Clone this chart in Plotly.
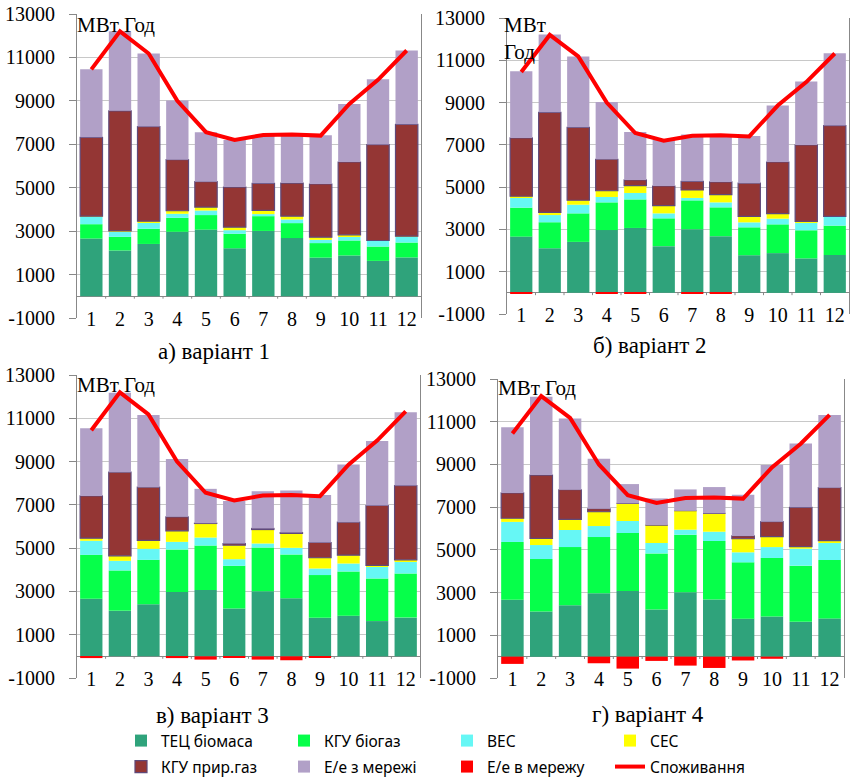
import plotly.graph_objects as go

months = list(range(1, 13))
month_labels = [str(m) for m in months]
y_tick_vals = list(range(-1000, 13001, 2000))
y_tick_text = [str(v) for v in y_tick_vals]

# shared series
tec_biomass = [2660, 2110, 2410, 2970, 3070, 2210, 3010, 2680, 1780, 1880, 1630, 1790]
consumption = [10450, 12200, 11180, 9000, 7560, 7200, 7430, 7450, 7400, 8860, 9970, 11320]

# variant 1
v1_biogas = [660, 630, 700, 645, 670, 670, 680, 690, 670, 690, 660, 685]
v1_wind = [340, 240, 275, 185, 210, 165, 95, 170, 150, 170, 260, 265]
v1_solar = [30, 30, 75, 140, 160, 140, 170, 150, 120, 90, 20, 30]
v1_gas = [3630, 5530, 4355, 2350, 1170, 1845, 1245, 1525, 2450, 3355, 4415, 5150]
v1_grid_in = [3140, 3660, 3365, 2725, 2270, 2170, 2230, 2245, 2245, 2675, 3015, 3400]
v1_grid_out = [0, 0, 0, 0, 0, 0, 0, 0, 0, 0, 0, 0]

# variant 2
v2_biogas = [1370, 1230, 1350, 1310, 1350, 1315, 1365, 1365, 1320, 1360, 1330, 1390]
v2_wind = [490, 340, 410, 255, 305, 235, 115, 235, 235, 270, 390, 410]
v2_solar = [50, 130, 210, 295, 345, 365, 375, 370, 285, 235, 30, 30]
v2_gas = [2760, 4730, 3450, 1490, 270, 930, 410, 595, 1570, 2445, 3615, 4290]
v2_grid_in = [3150, 3680, 3350, 2710, 2270, 2195, 2210, 2205, 2230, 2670, 3000, 3420]
v2_grid_out = [-20, 0, 0, -20, -20, 0, -30, -20, 0, 0, 0, 0]

# variant 3
v3_biogas = [2030, 1860, 2050, 1970, 2050, 1975, 2020, 2030, 1975, 2045, 1970, 2040]
v3_wind = [650, 445, 510, 350, 370, 305, 185, 305, 305, 365, 540, 555]
v3_solar = [120, 230, 385, 510, 650, 650, 645, 665, 495, 385, 60, 75]
v3_gas = [1955, 3865, 2460, 645, 10, 75, 50, 40, 705, 1525, 2770, 3430]
v3_grid_in = [3125, 3675, 3335, 2675, 1590, 1965, 1720, 1940, 2200, 2660, 2985, 3390]
v3_grid_out = [-80, 0, 0, -80, -150, -30, -150, -180, -30, 0, 0, 0]

# variant 4
v4_biogas = [2710, 2460, 2720, 2630, 2720, 2625, 2700, 2735, 2635, 2740, 2630, 2735]
v4_wind = [940, 655, 800, 515, 560, 485, 235, 435, 470, 510, 795, 795]
v4_solar = [170, 315, 500, 670, 825, 840, 885, 860, 635, 485, 95, 110]
v4_gas = [1185, 2960, 1385, 140, 0, 0, 0, 0, 130, 705, 1840, 2480]
v4_grid_in = [3075, 3670, 3340, 2340, 905, 1250, 1000, 1230, 1930, 2650, 2995, 3400]
v4_grid_out = [-340, 0, 0, -310, -560, -200, -420, -530, -180, -100, 0, 0]

variants = [
    (v1_biogas, v1_wind, v1_solar, v1_gas, v1_grid_in, v1_grid_out),
    (v2_biogas, v2_wind, v2_solar, v2_gas, v2_grid_in, v2_grid_out),
    (v3_biogas, v3_wind, v3_solar, v3_gas, v3_grid_in, v3_grid_out),
    (v4_biogas, v4_wind, v4_solar, v4_gas, v4_grid_in, v4_grid_out),
]

series_names = ["ТЕЦ біомаса", "КГУ біогаз", "ВЕС", "СЕС",
                "КГУ прир.газ", "Е/е з мережі", "Е/е в мережу", "Споживання"]
colors = ["#2FA37B", "#06FF4A", "#66F7F5", "#FFFF00",
          "#943634", "#B1A0C7", "#FF0000", "#FF0000"]
legend_of = ["legend", "legend", "legend", "legend",
             "legend2", "legend2", "legend2", "legend2"]

titles = ["а) варіант 1", "б) варіант 2", "в) варіант 3", "г) варіант 4"]

W, H = 852, 778
# plot areas in pixels: (left, right, top, bottom)
areas = [(77, 421, 14, 318), (507, 849, 18, 314), (77, 420, 375, 678), (498, 844, 379, 678)]
title_pos = [(214, 351), (650, 345), (212, 715), (648, 714)]

fig = go.Figure()
serif = "Liberation Serif"

for i, (biogas, wind, solar, gas, grid_in, grid_out) in enumerate(variants):
    xa = "x" if i == 0 else f"x{i+1}"
    ya = "y" if i == 0 else f"y{i+1}"
    data = [tec_biomass, biogas, wind, solar, gas, grid_in, grid_out]
    for k, vals in enumerate(data):
        fig.add_trace(go.Bar(
            x=months, y=vals, name=series_names[k],
            marker=dict(color=colors[k],
                        line=dict(color="#5F497A" if k == 4 else colors[k], width=1.2 if k == 4 else 0)),
            xaxis=xa, yaxis=ya, showlegend=(i == 0),
            legend=legend_of[k],
        ))
    fig.add_trace(go.Scatter(
        x=months, y=consumption, name=series_names[7], mode="lines",
        line=dict(color=colors[7], width=4),
        xaxis=xa, yaxis=ya, showlegend=(i == 0), legend=legend_of[7],
    ))

    l, r, t, b = areas[i]
    xkey = "xaxis" if i == 0 else f"xaxis{i+1}"
    ykey = "yaxis" if i == 0 else f"yaxis{i+1}"
    fig.layout[xkey] = dict(
        domain=[l / W, r / W], anchor=ya, range=[0.5, 12.5],
        tickvals=months, ticktext=month_labels, ticks="",
        showgrid=False, showline=False, zeroline=False,
        tickfont=dict(family=serif, size=20, color="black"),
        ticklabelstandoff=-13,
    )
    fig.layout[ykey] = dict(
        domain=[1 - b / H, 1 - t / H], anchor=xa, range=[-1000, 13000],
        tickvals=y_tick_vals, ticktext=y_tick_text,
        ticks="outside", ticklen=7, tickcolor="#888888",
        showline=True, linecolor="#888888", linewidth=1, mirror=True,
        showgrid=True, gridcolor="#C8C8C8", gridwidth=1,
        zeroline=True, zerolinecolor="#888888", zerolinewidth=1,
        tickfont=dict(family=serif, size=20, color="black"),
        ticklabelstandoff=10,
    )
    # category boundary ticks on the zero line
    for m in range(1, 12):
        fig.add_shape(type="line", xref=xa, yref=ya, x0=m + 0.5, x1=m + 0.5,
                      y0=0, y1=-110, line=dict(color="#888888", width=1))

    tx, ty = title_pos[i]
    fig.add_annotation(text=titles[i], xref="paper", yref="paper",
                       x=tx / W, y=1 - ty / H, xanchor="center", yanchor="middle",
                       showarrow=False, font=dict(family=serif, size=23, color="black"))

unit_pos = [(75, 11, "МВт Год"), (502, 11, "МВт<br>Год"), (75, 371, "МВт Год"), (496, 374, "МВт Год")]
for ux, uy, txt in unit_pos:
    fig.add_annotation(text=txt, xref="paper", yref="paper", x=ux / W, y=1 - uy / H,
                       xanchor="left", yanchor="top", align="left", showarrow=False,
                       font=dict(family=serif, size=21, color="black"))

legend_font = dict(family="Noto Sans", size=15.5, color="black")
fig.update_layout(
    width=W, height=H, barmode="relative", bargap=0.22,
    paper_bgcolor="white", plot_bgcolor="white",
    margin=dict(l=0, r=0, t=0, b=0, autoexpand=False),
    legend=dict(orientation="h", x=121 / W, y=1 - 724 / H, xanchor="left", yanchor="top",
                entrywidth=118, entrywidthmode="pixels", font=legend_font,
                bgcolor="rgba(0,0,0,0)", itemclick=False),
    legend2=dict(orientation="h", x=121 / W, y=1 - 750 / H, xanchor="left", yanchor="top",
                 entrywidth=118, entrywidthmode="pixels", font=legend_font,
                 bgcolor="rgba(0,0,0,0)", itemclick=False),
)

fig.write_html("out.html", config={"displayModeBar": False},
               post_script="document.body.style.margin='0';document.body.style.overflow='hidden';")
